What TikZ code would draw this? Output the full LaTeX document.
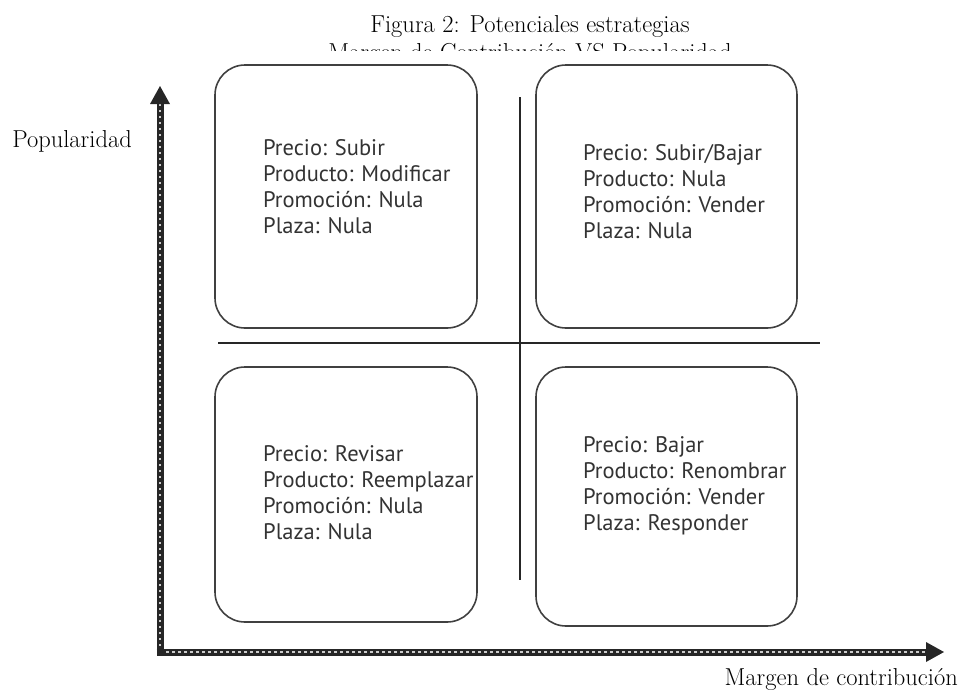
\documentclass[tikz,border=0pt]{standalone}
\usepackage{fontspec}
\newfontfamily\boxfont{PT Sans}
\begin{document}
\begin{tikzpicture}[x=1pt,y=-1pt,
  quad/.style={draw=black!75,line width=1.6pt,rounded corners=30pt},
  divider/.style={draw=black!85,line width=1.4pt},
  axisline/.style={line width=7pt,draw=black!85},
  axisdots/.style={line width=2.2pt,draw=white!80!black,dash pattern=on 2.5pt off 3.5pt},
  % anchored at the baseline of the last line
  strat/.style={anchor=base west,align=left,font=\boxfont\fontsize{22.5}{26}\selectfont,text=black!80,inner sep=0pt},
  label/.style={font=\fontsize{24.5}{28}\selectfont,inner sep=0pt}]
\useasboundingbox (0,0) rectangle (962,697);

% heading (second line partly hidden by the frame)
\node[label,anchor=base] (t1) at (530,32) {Figura 2: Potenciales estrategias};
\begin{scope}
  \clip (0,0) rectangle (962,50);
  \node[label,anchor=base] (t2) at (530,60) {Margen de Contribución VS Popularidad};
\end{scope}

% axes
\coordinate (o) at (160,652);
\coordinate (ytip) at (160,86);
\coordinate (xtip) at (944,652);
\draw[axisline] (160,655.5) -- (160,104);
\draw[axisline] (156.5,652) -- (926,652);
\draw[axisdots] (160,646) -- (160,104);
\draw[axisdots] (166,652) -- (926,652);
\fill[black!85] (ytip) -- (150,104) -- (170,104) -- cycle;
\fill[black!85] (xtip) -- (926,642) -- (926,662) -- cycle;
\node[label,anchor=base east] (ylab) at (132,147) {Popularidad};
\node[label,anchor=base east] (xlab) at (958,685) {Margen de contribución};

% dividing lines
\draw[divider] (218,343) -- (820,343);
\draw[divider] (520,97) -- (520,580);

% quadrants
\draw[quad] (215,65) rectangle (477,328);
\draw[quad] (536,65) rectangle (797,328);
\draw[quad] (215,367) rectangle (477,622);
\draw[quad] (536,367) rectangle (797,626);

\node[strat] (q1) at (263,233) {Precio: Subir\\Producto: Modificar\\Promoción: Nula\\Plaza: Nula};
\node[strat] (q2) at (583,238) {Precio: Subir/Bajar\\Producto: Nula\\Promoción: Vender\\Plaza: Nula};
\node[strat] (q3) at (263,539) {Precio: Revisar\\Producto: Reemplazar\\Promoción: Nula\\Plaza: Nula};
\node[strat] (q4) at (583,530) {Precio: Bajar\\Producto: Renombrar\\Promoción: Vender\\Plaza: Responder};
\end{tikzpicture}
\end{document}
